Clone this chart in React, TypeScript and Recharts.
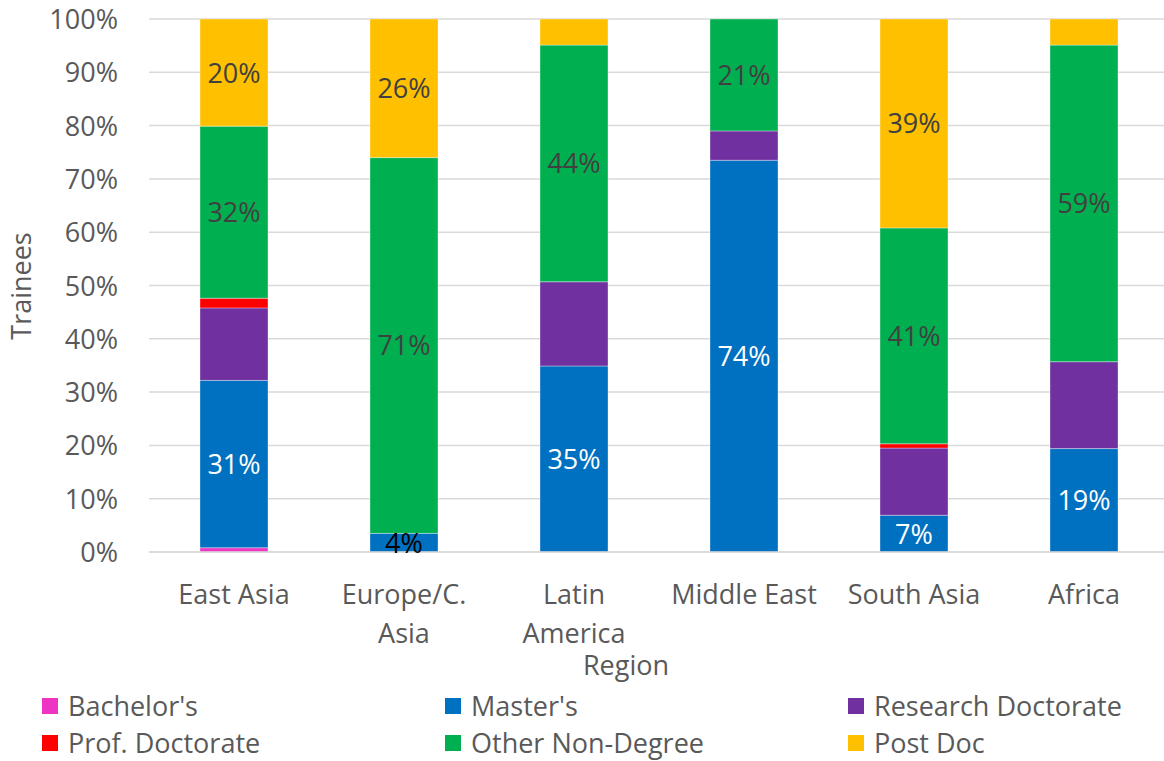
import React from "react";
import { BarChart, Bar, XAxis, YAxis, CartesianGrid, LabelList } from "recharts";

const categories = ["East Asia", "Europe/C. Asia", "Latin America", "Middle East", "South Asia", "Africa"];
const bachelors = [0.8, 0, 0, 0, 0, 0];
const masters = [31.4, 3.5, 34.9, 73.5, 6.9, 19.4];
const research = [13.6, 0, 15.8, 5.5, 12.6, 16.3];
const profDoc = [1.8, 0, 0, 0, 0.8, 0];
const otherNonDegree = [32.3, 70.5, 44.4, 21.0, 40.5, 59.4];
const postDoc = [20.1, 26.0, 4.9, 0, 39.2, 4.9];
const yTicks = [0, 10, 20, 30, 40, 50, 60, 70, 80, 90, 100];

const tickLines: Record<string, string[]> = {
  "Europe/C. Asia": ["Europe/C.", "Asia"],
  "Latin America": ["Latin", "America"],
};

const data = categories.map((c, i) => ({
  region: c,
  bachelors: bachelors[i],
  masters: masters[i],
  research: research[i],
  profDoc: profDoc[i],
  other: otherNonDegree[i],
  postDoc: postDoc[i],
}));

const FONT = "'Open Sans', 'Noto Sans', sans-serif";
const FS_L = 27;

const series = [
  { key: "bachelors", name: "Bachelor's", color: "#EE34C4" },
  { key: "masters", name: "Master's", color: "#0070C0" },
  { key: "research", name: "Research Doctorate", color: "#7030A0" },
  { key: "profDoc", name: "Prof. Doctorate", color: "#FF0000" },
  { key: "other", name: "Other Non-Degree", color: "#00B050" },
  { key: "postDoc", name: "Post Doc", color: "#FFC000" },
];

const XTick = (props: any) => {
  const { x, y, payload } = props;
  const lines = tickLines[payload.value] || [payload.value];
  return (
    <g>
      {lines.map((l, i) => (
        <text key={i} x={x} y={y + 52 + i * 39} textAnchor="middle" fill="#595959" fontSize={FS_L} fontFamily={FONT}>
          {l}
        </text>
      ))}
    </g>
  );
};

const YTick = (props: any) => {
  const { x, y, payload } = props;
  return (
    <text x={x - 31} y={y + 10} textAnchor="end" fill="#595959" fontSize={FS_L} fontFamily={FONT}>
      {`${payload.value}%`}
    </text>
  );
};

const makeLabel = (minShow: number, colorFn: (v: number) => string) => (props: any) => {
  const { x, y, width, height, value } = props;
  if (value == null || value < minShow) return null;
  return (
    <text
      x={x + width / 2}
      y={y + height / 2 + 10}
      textAnchor="middle"
      fill={colorFn(value)}
      fontSize={FS_L}
      fontFamily={FONT}
    >
      {`${Math.round(value)}%`}
    </text>
  );
};

const legendCols = [42, 445, 848];
const legendBaselines = [716, 753];

export default function App() {
  return (
    <div style={{ position: "absolute", left: 0, top: 0, width: 1164, height: 761, overflow: "hidden", background: "#fff" }}>
      <BarChart
        width={1172}
        height={761}
        data={data}
        margin={{ top: 19, right: 3, left: 0, bottom: 79 }}
        barCategoryGap="30%"
      >
        <CartesianGrid vertical={false} stroke="#d9d9d9" strokeWidth={1.5} />
        <XAxis
          dataKey="region"
          height={130}
          tickSize={0}
          tickMargin={0}
          tickLine={false}
          axisLine={{ stroke: "#d9d9d9", strokeWidth: 1.5 }}
          tick={<XTick />}
          interval={0}
        />
        <YAxis
          width={149}
          domain={[0, 100]}
          ticks={yTicks}
          tickSize={0}
          tickMargin={0}
          tickLine={false}
          axisLine={false}
          tick={<YTick />}
          allowDataOverflow
        />
        {series.map((s) => (
          <Bar
            key={s.key}
            dataKey={s.key}
            stackId="a"
            fill={s.color}
            stroke="#ffffff"
            strokeOpacity={0.35}
            strokeWidth={1}
            isAnimationActive={false}
          >
            {s.key === "masters" && (
              <LabelList dataKey="masters" content={makeLabel(0.1, (v) => (v < 5 ? "#000000" : "#ffffff"))} />
            )}
            {s.key === "other" && <LabelList dataKey="other" content={makeLabel(10, () => "#404040")} />}
            {s.key === "postDoc" && <LabelList dataKey="postDoc" content={makeLabel(10, () => "#404040")} />}
          </Bar>
        ))}
      </BarChart>
      <svg
        width={1164}
        height={761}
        style={{ position: "absolute", left: 0, top: 0, pointerEvents: "none" }}
      >
        <text
          transform="translate(31, 286) rotate(-90)"
          textAnchor="middle"
          fill="#595959"
          fontSize={FS_L}
          fontFamily={FONT}
        >
          Trainees
        </text>
        <text x={626} y={675} textAnchor="middle" fill="#595959" fontSize={FS_L} fontFamily={FONT}>
          Region
        </text>
        {series.map((s, i) => {
          const col = i % 3;
          const row = Math.floor(i / 3);
          const x = legendCols[col];
          const b = legendBaselines[row];
          return (
            <g key={s.key}>
              <rect x={x} y={b - 18} width={16} height={16} fill={s.color} />
              <text x={x + 26} y={b} fill="#595959" fontSize={FS_L} fontFamily={FONT}>
                {s.name}
              </text>
            </g>
          );
        })}
      </svg>
    </div>
  );
}
